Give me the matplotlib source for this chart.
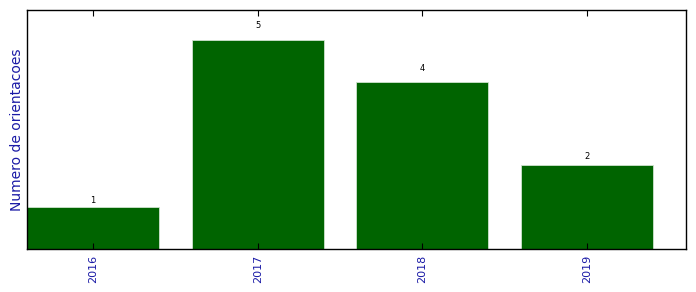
import matplotlib.pyplot as plt
import numpy as np

# dados
anos = ["2016", "2017", "2018", "2019"]
orientacoes = [1, 5, 4, 2]

x = np.arange(len(anos))

fig = plt.figure(figsize=(6.96, 2.92), dpi=100)
ax = fig.add_axes([0.0388, 0.1473, 0.9468, 0.8185])

barras = ax.bar(x, orientacoes, width=0.8, color="#006400", edgecolor="#cfe3cf", linewidth=0.6)

# rotulos em cima das barras
for b in barras:
    h = b.get_height()
    ax.text(b.get_x() + b.get_width() / 2, 1.05 * h, "%d" % int(h),
            ha="center", va="bottom", fontsize=6)

ax.set_xlim(-0.4, 3.6)
ax.set_ylim(0, 5.72)
ax.set_xticks(x)
ax.set_xticklabels(anos, rotation=90, color="#1a1aa6", fontsize=8)
ax.set_yticks([])
ax.set_ylabel("Numero de orientacoes", color="#1a1aa6", fontsize=10, labelpad=2)
ax.tick_params(axis="x", direction="in", top=True, length=4, width=0.8, pad=4)
for s in ax.spines.values():
    s.set_linewidth(1.0)

plt.savefig("out.png", dpi=100)
